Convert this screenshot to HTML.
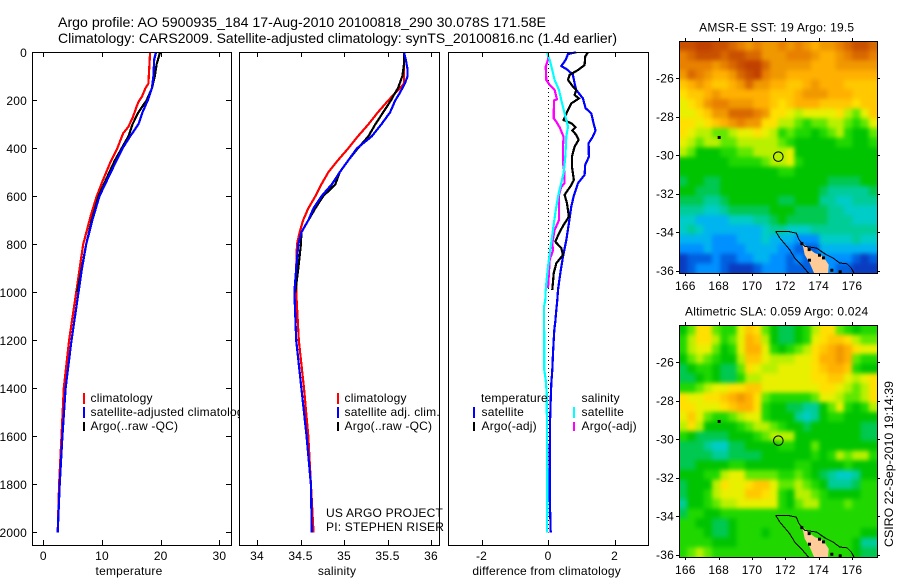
<!DOCTYPE html>
<html>
<head>
<meta charset="utf-8">
<title>Argo profile</title>
<style>
html,body{margin:0;padding:0;background:#fff;width:900px;height:580px;overflow:hidden}
svg{display:block}
text{font-family:"Liberation Sans",Arial,sans-serif;font-size:12px;fill:#000;letter-spacing:0.2px}
</style>
</head>
<body>
<svg id="fig" xmlns="http://www.w3.org/2000/svg" width="900" height="580" viewBox="0 0 900 580">
<rect x="0" y="0" width="900" height="580" fill="#fff"/>
<text x="58" y="27" style="font-size:14px;letter-spacing:0" textLength="488" lengthAdjust="spacingAndGlyphs">Argo profile: AO 5900935_184 17-Aug-2010 20100818_290 30.078S 171.58E</text>
<text x="58" y="43" style="font-size:14px;letter-spacing:0" textLength="559" lengthAdjust="spacingAndGlyphs">Climatology: CARS2009. Satellite-adjusted climatology: synTS_20100816.nc (1.4d earlier)</text>
<text transform="translate(893 464) rotate(-90)" text-anchor="middle" style="letter-spacing:0" textLength="166" lengthAdjust="spacingAndGlyphs">CSIRO 22-Sep-2010 19:14:39</text>
</svg>
<script>
// ---------- profile data ----------
const depthTicks = [0,200,400,600,800,1000,1200,1400,1600,1800,2000];
const tempTicks = [0,10,20,30];
const salTicks = [34,34.5,35,35.5,36];
const salTickLabels = ['34','34.5','35','35.5','36'];
const diffTicks = [-2,0,2];

const tempClimDepth = [0,130,150,185,205,226,268,310,338,400,460,530,600,680,800,890,985,1000,1200,1400,1600,1800,2000];
const tempClimValue = [18.2,17.9,17.4,16.8,16.25,15.9,15.3,14.5,13.6,12.6,11.4,10.2,9.1,8.1,6.8,6.25,5.7,5.6,4.4,3.5,3.1,2.7,2.45];
const tempSatDepth = [0,30,100,150,200,250,300,350,400,450,500,600,700,800,900,1000,1200,1400,1600,1800,2000];
const tempSatValue = [19.2,18.9,18.75,18.5,17.8,16.9,16.2,14.8,13.5,12.5,11.5,9.55,8.35,7.3,6.6,6.0,4.8,3.8,3.25,2.8,2.45];
const tempArgoDepth = [0,50,100,150,200,250,300,350,400,450,500,600,700,800,900,1000];
const tempArgoValue = [19.9,19.3,19,18.5,17.6,16.2,15.2,14.5,13.35,12.2,11.25,9.4,8.25,7.3,6.55,5.8];

const salClimDepth = [0,130,150,200,250,300,350,400,450,500,550,600,650,700,750,800,900,1000,1200,1400,1600,1800,2000];
const salClimValue = [35.69,35.69,35.64,35.51,35.39,35.28,35.16,35.05,34.93,34.82,34.74,34.67,34.59,34.53,34.49,34.46,34.45,34.45,34.48,34.54,34.59,34.62,34.65];
const salSatDepth = [0,30,70,100,130,170,200,250,300,350,400,450,500,550,600,650,700,750,800,900,1000,1200,1400,1600,1800,2000];
const salSatValue = [35.69,35.71,35.73,35.73,35.7,35.64,35.59,35.53,35.43,35.32,35.15,35.05,34.95,34.86,34.74,34.65,34.59,34.51,34.475,34.45,34.43,34.45,34.51,34.57,34.62,34.63];
const salArgoDepth = [0,50,100,150,180,200,250,300,350,400,450,500,550,600,650,700,750,800,900,1000];
const salArgoValue = [35.69,35.69,35.67,35.62,35.57,35.54,35.45,35.36,35.28,35.16,35.05,34.95,34.9,34.76,34.67,34.59,34.51,34.505,34.475,34.44];

const diffTempSatDepth = [0,7,32,57,74,94,129,157,192,233,254,296,326,351,379,435,469,511,546,601,643,713,782,851,921,990,1032,1074,1122,1157,1199,1254,1324,1379,1449,1546,1726,1851,1935,2000];
const diffTempSatValue = [0.85,0.6,0.53,0.4,0.6,0.75,0.8,0.85,1.05,1.13,1.3,1.37,1.43,1.35,1.22,1.23,1.12,1.1,0.9,0.77,0.7,0.63,0.55,0.45,0.37,0.3,0.28,0.25,0.22,0.19,0.17,0.15,0.13,0.1,0.08,0.06,0.05,0.05,0.07,0.08];
const diffTempArgoDepth = [0,18,53,74,94,115,143,157,178,192,213,240,282,296,312,326,344,365,393,435,476,532,553,594,629,685,719,754,789,816,844,879,921,990];
const diffTempArgoValue = [1.2,1.12,1.1,0.9,0.65,0.6,0.75,0.85,0.8,0.93,0.7,0.6,0.47,0.7,0.83,0.73,0.85,0.92,0.8,0.72,0.72,0.78,0.7,0.5,0.57,0.63,0.47,0.33,0.22,0.4,0.45,0.25,0.17,0.13];
const diffSalArgoDepth = [0,32,60,115,136,157,196,201,275,289,312,352,393,463,504,546,560,594,699,741,796,824,865,983];
const diffSalArgoValue = [0,0,-0.07,-0.05,0.05,0.2,0.27,0.18,0.17,0.25,0.35,0.47,0.45,0.45,0.5,0.5,0.4,0.33,0.33,0.2,0.13,0.15,0.05,0];
const diffSalSatDepth = [0,32,74,115,157,199,254,310,351,435,504,560,601,671,740,810,893,990,1032,1060,1254,1324,1365,1421,1588,1865,2000];
const diffSalSatValue = [-0.03,0.05,0.13,0.2,0.33,0.4,0.5,0.6,0.55,0.52,0.47,0.37,0.3,0.22,0.15,0.08,0,-0.07,-0.08,-0.12,-0.11,-0.11,-0.07,-0.04,-0.03,-0.02,-0.03];

// ---------- map data (colour levels, north to south, west to east) ----------
const mapLonTicks = [166,168,170,172,174,176];
const mapLatTicks = [-26,-28,-30,-32,-34,-36];
const sstLevels = [
[18,18,19,19,18,18,17,16,15,16,15,15,16,15,16,15,14,15,15,16,17,18,18,17],
[16,17,18,18,18,17,18,18,17,17,15,15,15,16,16,16,15,14,14,15,16,17,17,16],
[16,16,16,16,15,16,17,18,19,19,17,15,15,15,15,15,14,14,14,15,15,15,15,15],
[15,17,16,15,14,14,15,17,18,19,16,15,15,14,14,14,14,14,14,14,14,14,14,14],
[13,14,15,14,13,13,14,15,17,15,15,14,14,13,13,14,15,14,14,14,13,13,13,13],
[12,13,13,14,15,14,14,14,14,14,14,13,13,13,14,15,15,15,14,14,14,13,13,13],
[11,12,13,15,16,16,15,15,15,14,14,13,12,13,14,14,14,13,13,13,13,12,13,13],
[11,11,12,13,15,15,17,17,17,16,15,12,12,11,10,11,11,11,11,12,10,9,11,13],
[12,12,11,12,13,14,15,16,15,15,12,12,10,10,9,8,9,9,10,10,9,8,9,11],
[12,11,10,10,9,9,10,11,11,12,11,10,8,9,8,8,7,8,9,10,8,7,7,9],
[11,10,9,10,10,9,9,10,10,10,10,10,9,8,7,7,7,7,7,8,8,7,7,8],
[10,9,7,7,7,8,8,9,9,10,10,10,10,11,7,7,7,7,7,7,7,7,7,7],
[7,7,7,7,7,7,8,8,8,8,9,10,10,11,8,7,7,7,7,7,7,7,7,7],
[7,7,7,7,7,7,7,7,7,7,7,7,8,8,7,7,7,7,7,7,7,7,7,7],
[6,7,7,6,6,7,7,7,7,7,7,7,7,7,7,7,7,7,6,6,6,6,7,7],
[7,7,6,6,6,7,7,7,7,7,7,7,7,7,7,7,7,6,5,5,5,5,5,6],
[6,6,6,5,5,6,7,7,7,7,7,7,6,6,7,7,7,5,5,4,4,5,5,5],
[5,5,5,4,4,5,6,6,6,6,6,7,7,7,6,6,6,6,5,5,4,4,4,4],
[4,4,3,3,3,3,4,4,4,5,5,6,7,6,6,6,6,6,5,5,5,4,4,4],
[4,5,4,3,3,3,3,3,3,3,4,5,5,4,4,4,5,5,5,5,5,5,5,5],
[3,3,3,3,2,2,2,3,3,3,4,3,3,3,2,2,2,4,4,4,4,5,4,4],
[2,2,2,3,2,2,2,2,3,3,3,3,2,2,1,1,1,3,3,3,3,3,3,3],
[0,1,1,1,2,1,1,2,2,3,3,2,2,1,2,1,1,2,2,2,2,1,0,1],
[0,1,2,2,2,1,0,0,0,1,2,2,2,1,1,1,1,2,2,1,1,0,0,0]
];
const slaLevels = [
[7,9,12,12,9,8,8,11,13,12,9,7,6,6,7,8,10,12,12,9,8,7,8,8],
[8,10,12,12,10,8,9,11,14,13,10,7,6,6,7,8,11,12,13,13,12,10,9,9],
[8,10,11,11,9,7,8,11,14,14,11,8,7,8,9,10,12,13,14,15,14,12,11,11],
[7,9,10,9,8,7,7,10,13,13,11,10,10,10,11,11,12,14,14,15,14,9,8,8],
[6,7,8,8,7,6,6,9,12,11,10,10,11,11,11,11,12,13,14,14,13,8,7,7],
[6,6,7,8,7,6,6,8,10,10,11,11,11,11,11,11,12,12,13,13,11,10,11,12],
[8,8,9,10,11,11,12,12,13,13,11,11,11,11,11,11,11,12,12,11,10,9,10,12],
[12,11,11,12,12,13,14,15,14,12,9,8,8,8,8,8,9,11,11,10,9,9,10,12],
[12,12,11,11,11,12,13,14,14,12,8,7,7,6,6,5,5,7,9,11,8,7,8,10],
[11,13,11,9,8,8,9,10,11,11,8,7,7,7,5,4,5,7,8,8,7,7,7,7],
[10,12,10,7,7,7,7,8,9,10,10,9,8,7,7,6,7,7,7,7,7,7,6,6],
[8,7,6,6,6,6,7,7,7,8,9,10,10,10,7,7,7,7,7,7,7,7,6,6],
[6,6,6,5,4,4,6,6,7,7,7,7,8,8,7,7,9,7,7,7,7,7,7,7],
[6,6,6,6,5,5,6,6,6,6,7,7,7,7,7,7,8,7,8,10,9,10,10,8],
[6,6,7,7,7,7,8,8,7,7,7,7,7,7,8,8,7,7,7,7,8,7,7,7],
[7,7,7,8,8,10,11,11,9,9,9,9,8,8,9,8,7,6,5,4,4,5,7,7],
[6,7,7,7,10,12,11,11,12,13,13,11,9,9,10,9,8,7,5,5,5,6,8,8],
[6,7,7,8,10,11,11,11,13,13,12,11,8,7,10,10,9,8,7,7,7,7,8,8],
[5,7,7,8,9,10,10,11,11,11,11,11,8,7,9,10,10,8,8,8,9,8,8,8],
[6,8,8,7,7,8,8,8,8,8,8,8,8,8,8,8,8,8,8,8,8,8,8,8],
[8,8,7,7,6,6,7,8,8,8,8,8,8,8,8,8,8,8,8,8,8,8,8,8],
[8,8,8,7,6,6,7,8,8,8,7,8,8,8,8,8,8,8,8,8,8,8,7,7],
[8,8,8,8,7,7,7,8,8,8,8,8,8,8,8,8,8,8,8,8,8,7,5,5],
[8,9,10,9,8,8,8,8,8,8,8,8,8,8,8,8,8,8,8,8,8,7,6,6]
];
const landLon = [172.62,172.96,173.06,173.16,173.46,173.76,174.56,174.6,174.26,173.76,173.36,172.96];
const landLat = [-34.44,-34.48,-34.74,-35.17,-35.6,-36.2,-36.2,-35.69,-35.26,-35.08,-34.82,-34.5];
const contourALon = [171.42,171.66,172.16,172.66,172.82,173.16,173.86,174.46,174.86,175.26,175.7,175.96,176.16];
const contourALat = [-33.96,-33.96,-33.96,-34.05,-34.39,-34.74,-34.82,-35.17,-35.34,-35.6,-35.64,-35.86,-36.2];
const contourBLon = [171.42,171.66,172.26,172.56,172.96,173.46];
const contourBLat = [-33.96,-34.3,-34.91,-35.34,-35.69,-36.2];
const rockLon = [172.96,173.4,174.02,174.26,173.42,174.76,175.26,168];
const rockLat = [-34.57,-34.88,-35.17,-35.31,-35.43,-35.95,-36.03,-29.06];
const argoLon = 171.58;
const argoLat = -30.08;

// ---------- styling ----------
const palette = ['#0a3cc0','#0060e0','#0090ff','#00b4f0','#00ccc8','#00cc98','#00c850','#00c400','#20d800','#60e800','#b8f000','#e8f000','#ffe000','#ffc800','#ffb000','#f09800','#e88000','#d86800','#c85000','#c04000'];

const svg = document.getElementById('fig');
const NS = 'http://www.w3.org/2000/svg';
function mk(tag, attrs, parent) {
  const el = document.createElementNS(NS, tag);
  for (const k in attrs) el.setAttribute(k, attrs[k]);
  (parent || svg).appendChild(el);
  return el;
}
function label(txt, x, y, anchor) {
  const el = mk('text', {x: x, y: y, 'text-anchor': anchor || 'start'});
  el.textContent = txt;
  return el;
}

// ---------- profile panels ----------
const yDepth = d => 52.3 + 0.24 * d;
const xTemp = v => 43.3 + 5.87 * v;
const xSal = v => 257 + 87 * (v - 34);
const xDiff = v => 548 + 33.25 * v;
const TOP = 52, BOT = 545;

function panelBox(x0, x1, name) {
  const r = mk('rect', {x: x0, y: TOP, width: x1 - x0, height: BOT - TOP, fill: '#fff', stroke: 'none'});
  
  
}
function panelFrame(x0, x1, name) {
  const r = mk('rect', {x: x0 + 0.5, y: TOP + 0.5, width: x1 - x0, height: BOT - TOP, fill: 'none', stroke: '#000', 'stroke-width': 1, 'shape-rendering': 'crispEdges'});
  
  
}
function vticks(ticks, labels, xf, name) {
  ticks.forEach((t, i) => {
    const x = Math.round(xf(t)) + 0.5;
    const a = mk('line', {x1: x, x2: x, y1: TOP, y2: TOP + 5, stroke: '#000', 'shape-rendering': 'crispEdges'});
    
    
    const b = mk('line', {x1: x, x2: x, y1: BOT, y2: BOT - 5, stroke: '#000', 'shape-rendering': 'crispEdges'});
    
    
    const l = label(labels[i], xf(t), 560, 'middle');
    
    
  });
}
function line(xs, ds, xf, color, w, name) {
  const pts = xs.map((v, i) => xf(v).toFixed(1) + ',' + yDepth(ds[i]).toFixed(1)).join(' ');
  const p = mk('polyline', {points: pts, fill: 'none', stroke: color, 'stroke-width': w, 'shape-rendering': 'crispEdges'});
  
  
}
function swatch(x, y, h, color, name) {
  const r = mk('rect', {x: x, y: y, width: 2, height: h, fill: color, 'shape-rendering': 'crispEdges'});
  
  
}
function legendText(txt, x, y, name) {
  const l = label(txt, x, y);
  
  
}

// temperature panel
panelBox(32, 231, 'temperature-panel');
line(tempClimValue, tempClimDepth, xTemp, '#f00', 2.2, 'temperature-climatology-line');
line(tempArgoValue, tempArgoDepth, xTemp, '#000', 2.2, 'temperature-argo-line');
line(tempSatValue, tempSatDepth, xTemp, '#00f', 2.2, 'temperature-satellite-line');
swatch(83, 393, 11, '#f00', 'temperature-legend-climatology-swatch');
swatch(83, 407, 11, '#00f', 'temperature-legend-satellite-swatch');
swatch(83, 422, 9, '#000', 'temperature-legend-argo-swatch');
legendText('climatology', 90.5, 402, 'temperature-legend-climatology');
legendText('satellite-adjusted climatology', 90.5, 416, 'temperature-legend-satellite');
legendText('Argo(..raw -QC)', 90.5, 430, 'temperature-legend-argo');

// salinity panel (its background clips the overflowing legend text)
panelBox(239, 439, 'salinity-panel');
line(salClimValue, salClimDepth, xSal, '#f00', 2.2, 'salinity-climatology-line');
line(salArgoValue, salArgoDepth, xSal, '#000', 2.2, 'salinity-argo-line');
line(salSatValue, salSatDepth, xSal, '#00f', 2.2, 'salinity-satellite-line');
swatch(337, 393, 11, '#f00', 'salinity-legend-climatology-swatch');
swatch(337, 407, 11, '#00f', 'salinity-legend-satellite-swatch');
swatch(337, 422, 9, '#000', 'salinity-legend-argo-swatch');
legendText('climatology', 344.5, 402, 'salinity-legend-climatology');
legendText('satellite adj. clim.', 344.5, 416, 'salinity-legend-satellite');
legendText('Argo(..raw -QC)', 344.5, 430, 'salinity-legend-argo');

// difference panel
panelBox(448, 648, 'difference-panel');
const zeroLine = mk('line', {x1: xDiff(0) + 0.5, x2: xDiff(0) + 0.5, y1: TOP, y2: yDepth(2000), stroke: '#000', 'stroke-width': 1, 'stroke-dasharray': '1 3', 'shape-rendering': 'crispEdges'});


line(diffTempSatValue, diffTempSatDepth, xDiff, '#00f', 2.2, 'difference-temperature-satellite-line');
line(diffTempArgoValue, diffTempArgoDepth, xDiff, '#000', 2.2, 'difference-temperature-argo-line');
line(diffSalArgoValue, diffSalArgoDepth, xDiff, '#f0f', 2.2, 'difference-salinity-argo-line');
line(diffSalSatValue, diffSalSatDepth, xDiff, '#0ff', 2.2, 'difference-salinity-satellite-line');
swatch(473, 407, 11, '#00f', 'difference-legend-temperature-satellite-swatch');
swatch(473, 422, 9, '#000', 'difference-legend-temperature-argo-swatch');
swatch(573, 407, 11, '#0ff', 'difference-legend-salinity-satellite-swatch');
swatch(573, 422, 9, '#f0f', 'difference-legend-salinity-argo-swatch');
legendText('temperature', 481, 402, 'difference-legend-temperature-heading');
legendText('satellite', 481.5, 416, 'difference-legend-temperature-satellite');
legendText('Argo(-adj)', 481.5, 430, 'difference-legend-temperature-argo');
legendText('salinity', 581.5, 402, 'difference-legend-salinity-heading');
legendText('satellite', 581.5, 416, 'difference-legend-salinity-satellite');
legendText('Argo(-adj)', 581.5, 430, 'difference-legend-salinity-argo');

panelFrame(32, 231, 'temperature-panel');
panelFrame(239, 439, 'salinity-panel');
panelFrame(448, 648, 'difference-panel');

vticks(tempTicks, tempTicks.map(String), xTemp, 'temperature-x');
vticks(salTicks, salTickLabels, xSal, 'salinity-x');
vticks(diffTicks, diffTicks.map(String), xDiff, 'difference-x');

depthTicks.forEach(d => {
  const y = Math.round(yDepth(d)) + 0.5;
  const a = mk('line', {x1: 32, x2: 37, y1: y, y2: y, stroke: '#000', 'shape-rendering': 'crispEdges'});
  
  
  const b = mk('line', {x1: 226, x2: 231, y1: y, y2: y, stroke: '#000', 'shape-rendering': 'crispEdges'});
  
  
  const l = label(String(d), 27, yDepth(d) + 4.5, 'end');
  
  
});

const t1 = label('temperature', 129, 575, 'middle');


const t2 = label('salinity', 337, 575, 'middle');


const t3 = label('difference from climatology', 546.7, 575, 'middle');


const pi1 = label('US ARGO PROJECT', 326, 517);


const pi2 = label('PI: STEPHEN RISER', 326, 531);



// ---------- maps ----------
const LON0 = 165.62, LON1 = 177.5, LATTOP = -24.08, LATBOT = -36.12;
const MAPX0 = 679, MAPX1 = 877;
const defs = mk('defs', {});
const blur = mk('filter', {id: 'map-soften', filterUnits: 'userSpaceOnUse', x: 640, y: 0, width: 260, height: 580, 'color-interpolation-filters': 'sRGB'}, defs);
mk('feGaussianBlur', {stdDeviation: 2.2}, blur);

function drawMap(levels, y0, y1, titleText, key, tickLabelY) {
  const xLon = lon => MAPX0 + (lon - LON0) / (LON1 - LON0) * (MAPX1 - MAPX0);
  const yLat = lat => y0 + (LATTOP - lat) / (LATTOP - LATBOT) * (y1 - y0);
  const cp = mk('clipPath', {id: 'clip-' + key}, defs);
  mk('rect', {x: MAPX0, y: y0, width: MAPX1 - MAPX0, height: y1 - y0}, cp);
  const g = mk('g', {'clip-path': 'url(#clip-' + key + ')'});
  
  
  const cells = mk('g', {filter: 'url(#map-soften)'}, g);
  
  

  const nr = levels.length, nc = levels[0].length;
  const dLon = (LON1 - LON0) / nc, dLat = (LATTOP - LATBOT) / nr;
  const PAD = 10; // edge cells run past the clip so softening keeps full colour at the frame
  levels.forEach((row, r) => {
    row.forEach((v, c) => {
      let xa = xLon(LON0 + c * dLon), xb = xLon(LON0 + (c + 1) * dLon);
      let ya = yLat(LATTOP - r * dLat), yb = yLat(LATTOP - (r + 1) * dLat);
      if (c === 0) xa -= PAD;
      if (c === nc - 1) xb += PAD;
      if (r === 0) ya -= PAD;
      if (r === nr - 1) yb += PAD;
      const idx = Math.max(0, Math.min(palette.length - 1, Math.round(v)));
      const cell = mk('rect', {x: xa.toFixed(2), y: ya.toFixed(2), width: (xb - xa + 0.4).toFixed(2), height: (yb - ya + 0.4).toFixed(2), fill: palette[idx]}, cells);
      
      
    });
  });

  const toPts = (lons, lats) => lons.map((v, i) => xLon(v).toFixed(1) + ',' + yLat(lats[i]).toFixed(1)).join(' ');
  const land = mk('polygon', {points: toPts(landLon, landLat), fill: '#ffcc99', stroke: 'none'}, g);
  
  
  const ca = mk('polyline', {points: toPts(contourALon, contourALat), fill: 'none', stroke: '#000', 'stroke-width': 1, 'shape-rendering': 'crispEdges'}, g);
  
  
  const cb = mk('polyline', {points: toPts(contourBLon, contourBLat), fill: 'none', stroke: '#000', 'stroke-width': 1, 'shape-rendering': 'crispEdges'}, g);
  
  
  rockLon.forEach((lon, i) => {
    const rock = mk('rect', {x: xLon(lon) - 1, y: yLat(rockLat[i]) - 1, width: 3, height: 3, fill: '#000'}, g);
    
    
  });
  const marker = mk('circle', {cx: xLon(argoLon), cy: yLat(argoLat), r: 4.8, fill: 'none', stroke: '#000', 'stroke-width': 1}, g);
  
  

  const fr = mk('rect', {x: MAPX0 + 0.5, y: y0 + 0.5, width: MAPX1 - MAPX0, height: y1 - y0, fill: 'none', stroke: '#000', 'shape-rendering': 'crispEdges'});
  
  

  mapLonTicks.forEach(lon => {
    const x = Math.round(xLon(lon)) + 0.5;
    const a = mk('line', {x1: x, x2: x, y1: y0 - 3, y2: y0, stroke: '#000', 'shape-rendering': 'crispEdges'});
    
    
    const b = mk('line', {x1: x, x2: x, y1: y1, y2: y1 + 3, stroke: '#000', 'shape-rendering': 'crispEdges'});
    
    
    const l = label(String(lon), xLon(lon), tickLabelY, 'middle');
    
    
  });
  mapLatTicks.forEach(lat => {
    const y = Math.round(yLat(lat)) + 0.5;
    const a = mk('line', {x1: MAPX0 - 3, x2: MAPX0, y1: y, y2: y, stroke: '#000', 'shape-rendering': 'crispEdges'});
    
    
    const b = mk('line', {x1: MAPX1, x2: MAPX1 + 3, y1: y, y2: y, stroke: '#000', 'shape-rendering': 'crispEdges'});
    
    
    const l = label(String(lat), 674, yLat(lat) + 4.5, 'end');
    
    
  });
  const ttl = label(titleText, 776.7, y0 - 9.5, 'middle');
  
  
}

drawMap(sstLevels, 41, 273, 'AMSR-E SST: 19 Argo: 19.5', 'sst', 290);
drawMap(slaLevels, 325, 557, 'Altimetric SLA: 0.059 Argo: 0.024', 'sla', 574);
</script>
</body>
</html>
